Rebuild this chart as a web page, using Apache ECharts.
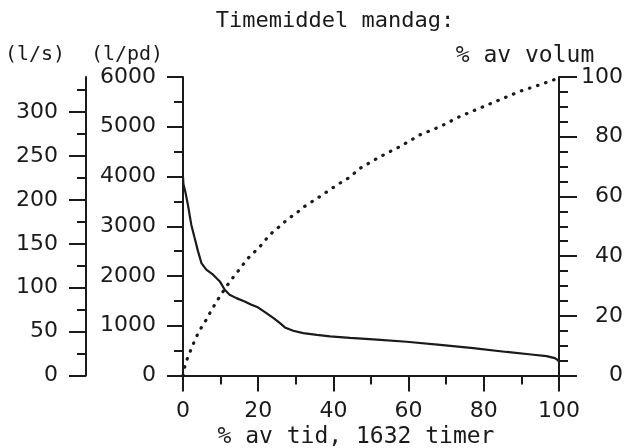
<!DOCTYPE html>
<html><head><meta charset="utf-8">
<script src="https://cdn.jsdelivr.net/npm/echarts@6/dist/echarts.min.js"></script>
<style>html,body{margin:0;padding:0;background:#fff}#c{width:629px;height:448px}</style>
</head><body><div id="c"></div>
<script>
// ---- data ----
var titleText = 'Timemiddel mandag:';
var xName = '% av tid, 1632 timer';
var flowTime = [0, 0.1, 0.6, 1.3, 2.2, 3.1, 4.0, 4.9, 6.2, 8.0, 9.8, 11.1, 12.4, 14.2, 16.4, 18.2, 19.9, 21.8, 24.0, 25.8, 27.1, 29.3, 32.0, 35.6, 39.1, 44.4, 50.6, 59.5, 68.4, 77.2, 86.1, 93.2, 96.7, 98.9, 99.8, 100];
var flowLpd  = [4000, 3850, 3700, 3435, 3032, 2762, 2495, 2260, 2127, 2026, 1891, 1724, 1624, 1555, 1489, 1422, 1370, 1275, 1160, 1052, 966, 899, 851, 817, 785, 757, 728, 678, 614, 551, 473, 417, 390, 350, 302, 270];
var volTime  = [0, 0.3, 0.9, 1.8, 2.7, 3.8, 4.9, 6.2, 7.4, 8.7, 10.0, 11.4, 12.7, 14.2, 15.5, 17.3, 19.1, 20.9, 22.3, 24.2, 26.1, 27.8, 30.0, 32.0, 34.0, 36.0, 38.2, 40.2, 42.2, 44.2, 47.1, 52.4, 57.7, 63.0, 68.4, 73.7, 79.0, 84.3, 89.6, 94.9, 99.4, 100];
var volPct   = [0, 2.1, 4.9, 7.7, 10.5, 13.6, 16.1, 18.7, 21.5, 24.3, 26.9, 29.5, 31.9, 34.2, 36.4, 39.3, 41.5, 43.8, 46.0, 48.5, 50.3, 52.4, 54.2, 56.4, 58.0, 59.6, 61.5, 63.2, 64.8, 66.3, 69.4, 73.3, 76.7, 80.6, 83.4, 86.8, 89.6, 92.4, 95.2, 97.4, 99.4, 100];
var lsMajor  = [0, 50, 100, 150, 200, 250, 300];
var lsMinor  = [25, 75, 125, 175, 225, 275, 325];

var INK = '#1a1a1a';
var plain = function (v) { return String(v); };
var numFont = {fontFamily: 'DejaVu Sans', fontSize: 22, color: INK, formatter: plain};
var monoFont = 'DejaVu Sans Mono';

var chart = echarts.init(document.getElementById('c'), null, {renderer: 'canvas'});
var option = {
  animation: false,
  backgroundColor: '#fff',
  grid: {left: 183, right: 70, top: 77, bottom: 72.5},
  xAxis: {
    type: 'value', min: 0, max: 100, interval: 20,
    axisLine: {lineStyle: {color: INK, width: 2}},
    axisTick: {length: 16, lineStyle: {color: INK, width: 2}},
    minorTick: {show: true, splitNumber: 2, length: 9, lineStyle: {color: INK, width: 2}},
    axisLabel: Object.assign({margin: 25}, numFont),
    splitLine: {show: false}
  },
  yAxis: [
    { // l/pd
      type: 'value', position: 'left', min: 0, max: 6000, interval: 1000,
      axisLine: {show: true, lineStyle: {color: INK, width: 2}},
      axisTick: {show: true, length: 16, lineStyle: {color: INK, width: 2}},
      minorTick: {show: true, splitNumber: 2, length: 9, lineStyle: {color: INK, width: 2}},
      axisLabel: Object.assign({margin: 27}, numFont),
      splitLine: {show: false}
    },
    { // l/s major
      type: 'value', position: 'left', offset: 97, min: 0, max: 340,
      axisLine: {show: true, lineStyle: {color: INK, width: 2}},
      axisTick: {show: true, length: 17, customValues: lsMajor, lineStyle: {color: INK, width: 2}},
      axisLabel: Object.assign({margin: 28, customValues: lsMajor}, numFont),
      splitLine: {show: false}
    },
    { // % av volum
      type: 'value', position: 'right', min: 0, max: 100, interval: 20,
      axisLine: {show: true, lineStyle: {color: INK, width: 2}},
      axisTick: {show: true, length: 18, lineStyle: {color: INK, width: 2}},
      minorTick: {show: true, splitNumber: 4, length: 9, lineStyle: {color: INK, width: 2}},
      axisLabel: Object.assign({margin: 64, align: 'right'}, numFont),
      splitLine: {show: false}
    },
    { // l/s minor ticks
      type: 'value', position: 'left', offset: 97, min: 0, max: 340,
      axisLine: {show: false},
      axisTick: {show: true, length: 9, customValues: lsMinor, lineStyle: {color: INK, width: 2}},
      axisLabel: {show: false},
      splitLine: {show: false}
    }
  ],
  graphic: [
    {type: 'text', x: 335, y: 21, style: {text: titleText, font: '22px "' + monoFont + '"', fill: INK, textAlign: 'center', textVerticalAlign: 'middle'}},
    {type: 'text', x: 35, y: 55, style: {text: '(l/s)', font: '20px "' + monoFont + '"', fill: INK, textAlign: 'center', textVerticalAlign: 'middle'}},
    {type: 'text', x: 127, y: 55, style: {text: '(l/pd)', font: '20px "' + monoFont + '"', fill: INK, textAlign: 'center', textVerticalAlign: 'middle'}},
    {type: 'text', x: 525, y: 56, style: {text: '% av volum', font: '23px "' + monoFont + '"', fill: INK, textAlign: 'center', textVerticalAlign: 'middle'}},
    {type: 'text', x: 356, y: 437, style: {text: xName, font: '23px "' + monoFont + '"', fill: INK, textAlign: 'center', textVerticalAlign: 'middle'}}
  ],
  series: [
    {
      type: 'line', yAxisIndex: 0, showSymbol: false, smooth: false,
      data: flowTime.map(function (t, i) { return [t, flowLpd[i]]; }),
      lineStyle: {color: INK, width: 2.2}
    },
    {
      type: 'line', yAxisIndex: 2, showSymbol: false, smooth: false,
      data: volTime.map(function (t, i) { return [t, volPct[i]]; }),
      lineStyle: {color: INK, width: 3.2, type: [0.5, 8], cap: 'round'}
    }
  ]
};
chart.setOption(option);
</script>
</body></html>
